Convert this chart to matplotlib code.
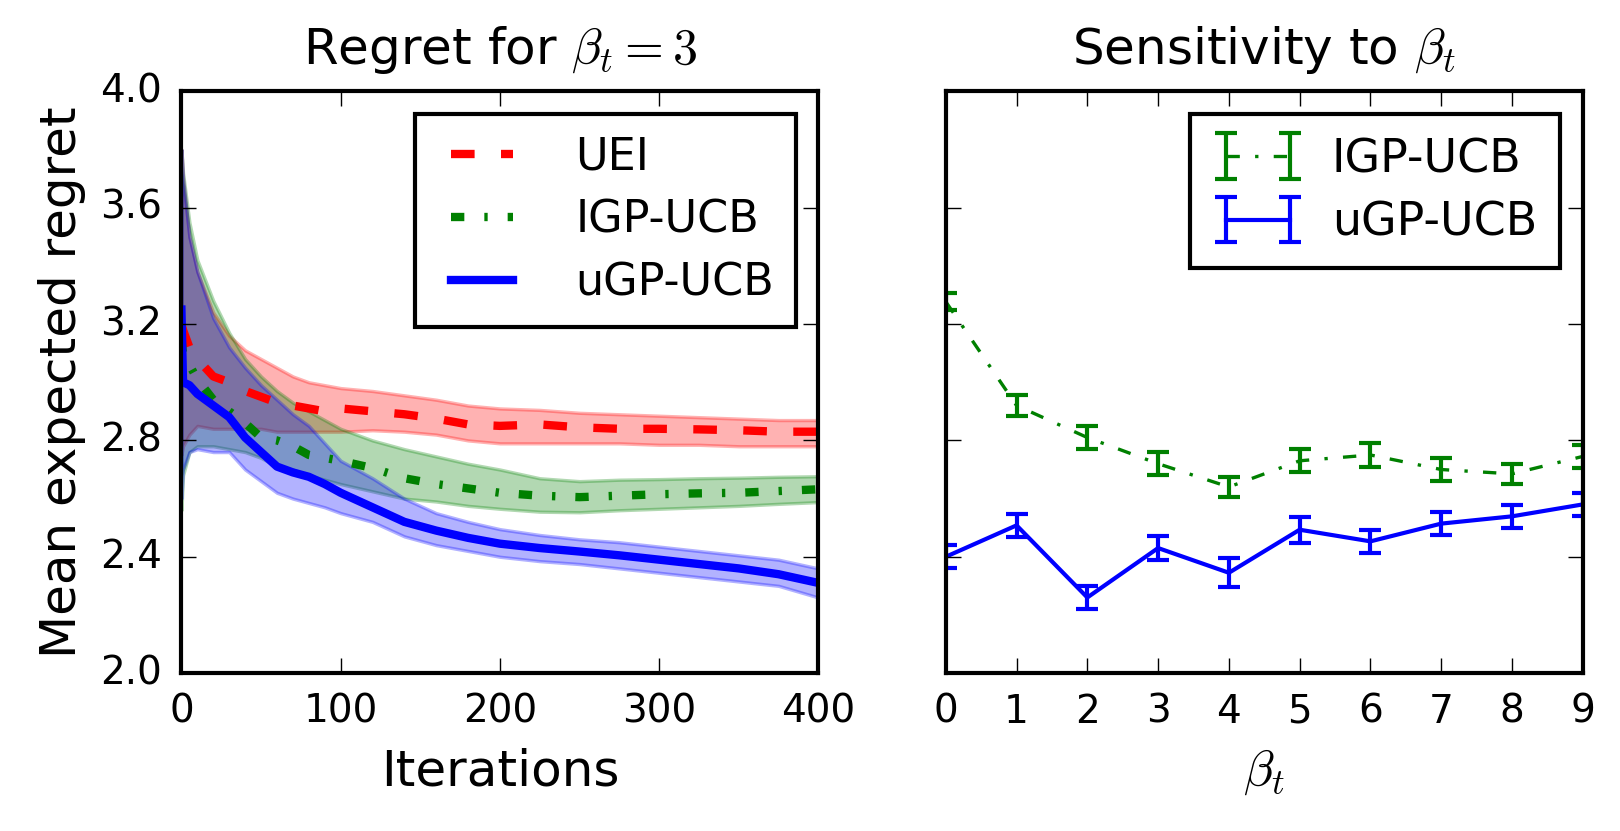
import numpy as np
import matplotlib
matplotlib.use('Agg')
import matplotlib.pyplot as plt

plt.style.use('classic')
plt.rcParams['figure.facecolor'] = 'white'
plt.rcParams['savefig.facecolor'] = 'white'
plt.rcParams['axes.linewidth'] = 1.5
plt.rcParams['mathtext.fontset'] = 'cm'
plt.rcParams['xtick.major.size'] = 5.5
plt.rcParams['ytick.major.size'] = 5.5
plt.rcParams['xtick.major.pad'] = 7
plt.rcParams['ytick.major.pad'] = 7
plt.rcParams['xtick.labelsize'] = 14
plt.rcParams['ytick.labelsize'] = 14

## Left panel: regret vs iterations (beta_t = 3)
iters = [0, 1, 5, 10, 20, 30, 40, 50, 60, 70, 80, 90, 100, 120, 140, 160, 180,
         200, 225, 250, 275, 300, 325, 350, 375, 400]

uei_mean = [3.20, 3.18, 3.12, 3.08, 3.02, 3.00, 2.97, 2.95, 2.93, 2.92, 2.91, 2.90, 2.91,
            2.90, 2.89, 2.875, 2.855, 2.85, 2.855, 2.845, 2.84, 2.84, 2.838, 2.835, 2.83, 2.83]
uei_hi = [3.80, 3.70, 3.50, 3.38, 3.24, 3.16, 3.11, 3.08, 3.05, 3.02, 3.00, 2.99, 2.98,
          2.97, 2.955, 2.94, 2.92, 2.91, 2.905, 2.895, 2.89, 2.885, 2.88, 2.875, 2.87, 2.87]
uei_lo = [2.75, 2.78, 2.82, 2.85, 2.84, 2.84, 2.84, 2.84, 2.83, 2.83, 2.83, 2.83, 2.83,
          2.835, 2.83, 2.82, 2.80, 2.79, 2.79, 2.79, 2.79, 2.785, 2.785, 2.78, 2.78, 2.78]

igp_mean = [3.15, 3.10, 3.06, 3.01, 2.94, 2.90, 2.86, 2.81, 2.80, 2.78, 2.75, 2.74, 2.73,
            2.705, 2.67, 2.65, 2.635, 2.62, 2.61, 2.605, 2.61, 2.615, 2.618, 2.62, 2.626, 2.632]
igp_hi = [3.80, 3.72, 3.55, 3.42, 3.28, 3.17, 3.08, 3.02, 2.97, 2.93, 2.90, 2.87, 2.84,
          2.80, 2.77, 2.745, 2.72, 2.70, 2.67, 2.66, 2.665, 2.667, 2.67, 2.672, 2.675, 2.677]
igp_lo = [2.56, 2.68, 2.76, 2.78, 2.78, 2.77, 2.76, 2.74, 2.71, 2.70, 2.68, 2.665, 2.65,
          2.625, 2.60, 2.59, 2.575, 2.565, 2.555, 2.553, 2.56, 2.565, 2.57, 2.575, 2.582, 2.588]

ugp_mean = [3.25, 3.00, 2.99, 2.96, 2.92, 2.88, 2.81, 2.76, 2.71, 2.69, 2.675, 2.65, 2.62,
            2.57, 2.52, 2.49, 2.465, 2.445, 2.43, 2.418, 2.405, 2.39, 2.375, 2.36, 2.34, 2.31]
ugp_hi = [3.80, 3.70, 3.50, 3.38, 3.22, 3.12, 3.05, 2.99, 2.94, 2.89, 2.85, 2.79, 2.73,
          2.67, 2.60, 2.55, 2.52, 2.495, 2.475, 2.46, 2.45, 2.435, 2.42, 2.405, 2.39, 2.36]
ugp_lo = [2.60, 2.70, 2.76, 2.77, 2.76, 2.76, 2.70, 2.66, 2.62, 2.60, 2.585, 2.57, 2.55,
          2.52, 2.47, 2.44, 2.42, 2.40, 2.385, 2.375, 2.36, 2.345, 2.33, 2.315, 2.30, 2.26]

## Right panel: sensitivity to beta_t
betas = [0, 1, 2, 3, 4, 5, 6, 7, 8, 9]
igp_beta = [3.277, 2.92, 2.81, 2.72, 2.64, 2.73, 2.75, 2.70, 2.685, 2.745]
igp_beta_err = [0.03, 0.035, 0.04, 0.04, 0.035, 0.04, 0.04, 0.04, 0.035, 0.04]
ugp_beta = [2.40, 2.508, 2.26, 2.43, 2.345, 2.493, 2.453, 2.514, 2.539, 2.58]
ugp_beta_err = [0.04, 0.04, 0.04, 0.04, 0.05, 0.045, 0.04, 0.04, 0.04, 0.04]

fig, (ax1, ax2) = plt.subplots(1, 2, figsize=(8.1, 4.155), dpi=200, sharey=True)
fig.subplots_adjust(left=0.112, right=0.977, bottom=0.19, top=0.89, wspace=0.2)

ax1.fill_between(iters, uei_lo, uei_hi, color='r', alpha=0.3, lw=1.2)
ax1.fill_between(iters, igp_lo, igp_hi, color='g', alpha=0.3, lw=1.2)
ax1.fill_between(iters, ugp_lo, ugp_hi, color='b', alpha=0.3, lw=1.2)
ax1.plot(iters, uei_mean, color='r', lw=3, dashes=(8.5, 9.5), label='UEI')
ax1.plot(iters, igp_mean, color='g', lw=3, dashes=(4.8, 7.2, 1.2, 7.2), label='IGP-UCB')
ax1.plot(iters, ugp_mean, color='b', lw=3, label='uGP-UCB')
ax1.set_xlim(0, 400)
ax1.set_ylim(2.0, 4.0)
ax1.set_xticks([0, 100, 200, 300, 400])
ax1.set_yticks([2.0, 2.4, 2.8, 3.2, 3.6, 4.0])
ax1.set_xlabel('Iterations', fontsize=18, labelpad=6)
ax1.set_ylabel('Mean expected regret', fontsize=18)
ax1.set_title(r'Regret for $\beta_t = 3$', fontsize=18, pad=10)
leg1 = ax1.legend(loc='upper right', fontsize=16, handlelength=2.0, labelspacing=0.45,
                  handletextpad=1.1, borderpad=0.5)
leg1.get_frame().set_linewidth(1.5)

ax2.errorbar(betas, igp_beta, yerr=igp_beta_err, fmt='g', lw=1.2, dashes=(4.8, 5.5, 1.2, 5.5),
             capsize=4, capthick=1.5, elinewidth=1.5, label='IGP-UCB')
ax2.errorbar(betas, ugp_beta, yerr=ugp_beta_err, fmt='b-', lw=1.5, capsize=4,
             capthick=1.5, elinewidth=1.5, label='uGP-UCB')
ax2.set_xlim(0, 9)
ax2.set_xticks(betas)
ax2.set_xlabel(r'$\beta_t$', fontsize=18, labelpad=6)
ax2.set_title(r'Sensitivity to $\beta_t$', fontsize=18, pad=10)
plt.setp(ax2.get_yticklabels(), visible=False)
leg2 = ax2.legend(loc='upper right', fontsize=16.5, numpoints=2, labelspacing=0.4,
                  handletextpad=0.6, borderpad=0.5)
leg2.get_frame().set_linewidth(1.5)

fig.savefig('out.png', dpi=200)
